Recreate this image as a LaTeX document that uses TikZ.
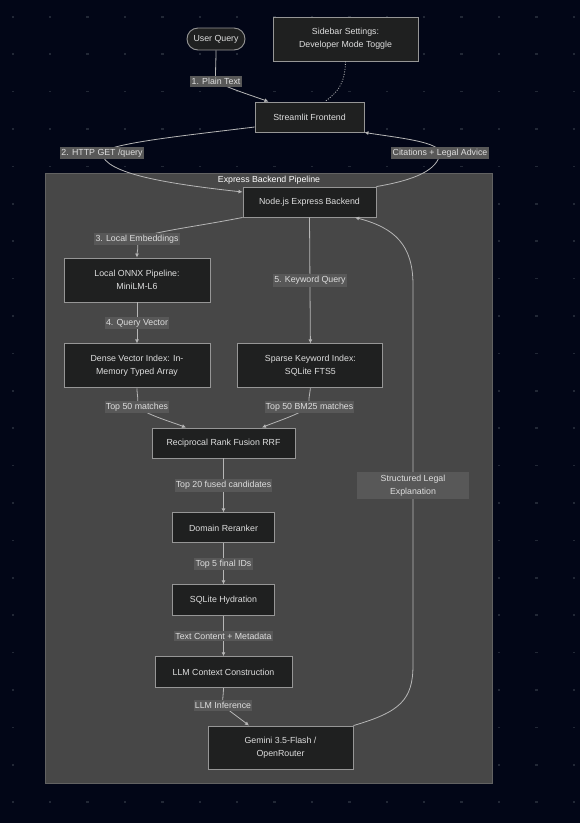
\documentclass[tikz,border=0pt]{standalone}
\usepackage{fontspec}
\setmainfont{Liberation Sans}
\usetikzlibrary{arrows.meta, positioning}

\definecolor{bgnavy}{RGB}{2,6,23}
\definecolor{griddot}{RGB}{34,40,54}
\definecolor{clusterfill}{RGB}{71,71,71}
\definecolor{clusterline}{RGB}{98,98,98}
\definecolor{boxfill}{RGB}{31,32,32}
\definecolor{boxline}{RGB}{150,150,150}
\definecolor{boxtext}{RGB}{222,222,222}
\definecolor{lblfill}{RGB}{88,88,88}
\definecolor{edgecol}{RGB}{182,182,182}

\tikzset{
  box/.style={draw=boxline, line width=0.9pt, fill=boxfill, text=boxtext,
    align=center, inner sep=0pt, font=\fontsize{8.8}{13}\selectfont},
  pill/.style={box, rounded corners=11pt},
  lbl/.style={fill=lblfill, text=boxtext, inner xsep=1.2pt, inner ysep=2pt,
    align=center, font=\fontsize{8.8}{13}\selectfont},
  conn/.style={draw=edgecol, line width=0.8pt},
  flow/.style={conn, -{Latex[length=4pt,width=4pt]}},
}

\begin{document}
\begin{tikzpicture}[x=1pt, y=-1pt]
  \fill[bgnavy] (0,0) rectangle (580,823);
  \useasboundingbox (0,0) rectangle (580,823);
  % dot grid
  \foreach \i in {0,...,15}
    \foreach \j in {0,...,21}
      \fill[griddot] (11.5+37.4*\i, 16+37.4*\j) rectangle +(2.5,1.5);

  % backend cluster
  \node[draw=clusterline, fill=clusterfill, minimum width=447pt,
    minimum height=610pt, inner sep=0pt] (backend) at (268.5,478) {};
  \node[text=white, font=\fontsize{8.8}{13}\selectfont] (backendtitle) at (269,180) {Express Backend Pipeline};

  % client side
  \node[pill, minimum width=58pt, minimum height=22pt] (uq) at (216,39) {User Query};
  \node[box, minimum width=145pt, minimum height=44pt] (sb) at (345.5,39) {Sidebar Settings:\\Developer Mode Toggle};
  \node[box, minimum width=109pt, minimum height=30pt] (st) at (309.5,117) {Streamlit Frontend};

  % pipeline
  \node[box, minimum width=133pt, minimum height=30pt] (nb) at (309.5,202) {Node.js Express Backend};
  \node[box, minimum width=146pt, minimum height=44pt] (onnx) at (137,280) {Local ONNX Pipeline:\\MiniLM-L6};
  \node[box, minimum width=146pt, minimum height=44pt, below=41pt of onnx] (dense) {Dense Vector Index: In-\\Memory Typed Array};
  \node[box, minimum width=145pt, minimum height=44pt, right=27pt of dense] (sparse) {Sparse Keyword Index:\\SQLite FTS5};
  \node[box, minimum width=143pt, minimum height=30pt] (rrf) at (223.5,443) {Reciprocal Rank Fusion RRF};
  \node[box, minimum width=102pt, minimum height=30pt, below=54pt of rrf] (rerank) {Domain Reranker};
  \node[box, minimum width=102pt, minimum height=31pt, below=41pt of rerank] (hyd) {SQLite Hydration};
  \node[box, minimum width=137pt, minimum height=31pt, below=40pt of hyd] (ctx) {LLM Context Construction};
  \node[box, minimum width=145pt, minimum height=43pt] (gem) at (280.5,747.5) {Gemini 3.5-Flash /\\OpenRouter};

  % connectors
  \draw[flow] (uq.south) .. controls (216,64) and (215,74) .. (216,81.5) node[lbl] (t1) {1. Plain Text}
    .. controls (228,88) and (250,95) .. ([xshift=-41pt]st.north);
  \draw[conn, dash pattern=on 1pt off 1.5pt] (sb.south) .. controls (345,86) and (336,93) .. ([xshift=15.5pt]st.north);
  \draw[flow] ([yshift=-10pt]st.west) .. controls (190,135) and (110,143) .. (102,153) node[lbl] (t2) {2. HTTP GET /query}
    .. controls (104,174) and (170,184) .. ([yshift=10pt]nb.west);
  \draw[flow] (nb.north east) .. controls (415,180) and (438,170) .. (440,153) node[lbl] (t3) {Citations + Legal Advice}
    .. controls (440,142) and (400,138) .. (st.south east);
  \draw[flow] (nb.south west) .. controls (200,226) and (150,232) .. (137,239) node[lbl] (t4) {3. Local Embeddings}
    .. controls (139,248) and (137,252) .. (onnx.north);
  \draw[flow] (onnx.south) -- node[lbl] (t5) {4. Query Vector} (dense.north);
  \draw[flow] (nb.south) -- node[lbl] (t6) {5. Keyword Query} (sparse.north);
  \draw[flow] (dense.south) .. controls (137,396) and (139,400) .. (137,407) node[lbl] (t7) {Top 50 matches}
    .. controls (150,416) and (172,422) .. ([xshift=-37.5pt]rrf.north);
  \draw[flow] (sparse.south) .. controls (309.5,396) and (308,400) .. (309.5,407) node[lbl] (t8) {Top 50 BM25 matches}
    .. controls (295,416) and (275,422) .. ([xshift=38.5pt]rrf.north);
  \draw[flow] (rrf.south) -- node[lbl] (t9) {Top 20 fused candidates} (rerank.north);
  \draw[flow] (rerank.south) -- node[lbl] (t10) {Top 5 final IDs} (hyd.north);
  \draw[flow] (hyd.south) -- node[lbl] (t11) {Text Content + Metadata} (ctx.north);
  \draw[flow] (ctx.south) .. controls (223.5,695) and (222,700) .. (223,705.5) node[lbl] (t12) {LLM Inference}
    .. controls (232,713) and (242,720) .. ([xshift=-31.5pt]gem.north);
  \draw[flow] (gem.north east) .. controls (400,712) and (413,700) .. (413,665) -- (413,485.5)
    node[lbl, minimum width=112pt, minimum height=27pt] (t13) {Structured Legal\\Explanation} -- (413,285)
    .. controls (413,245) and (395,228) .. ([xshift=45.5pt]nb.south);
\end{tikzpicture}
\end{document}
